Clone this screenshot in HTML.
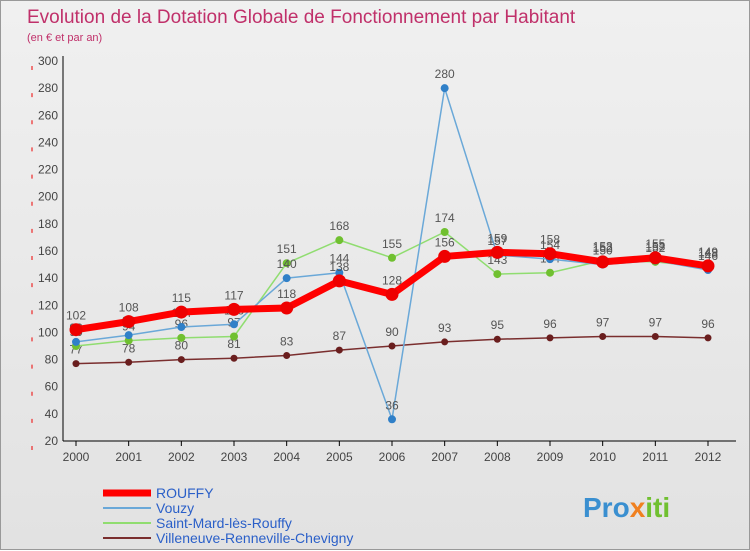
<!DOCTYPE html>
<html><head><meta charset="utf-8"><style>
body{margin:0;width:750px;height:550px;overflow:hidden;font-family:"Liberation Sans",sans-serif}
#wrap{position:absolute;left:0;top:0;width:748px;height:548px;border:1px solid #999;background:linear-gradient(#f0f0f0,#e2e2e2)}
</style></head><body>
<div id="wrap">
<svg id="svg" width="750" height="550" style="position:absolute;left:0;top:0">
<text x="26" y="22" font-size="19" fill="#c0306a">Evolution de la Dotation Globale de Fonctionnement par Habitant</text>
<text x="26" y="40" font-size="11" fill="#c0306a">(en € et par an)</text>
<g id="axes"></g><g id="series"></g><g id="legend"></g>
<text x="582" y="516" font-size="28" font-weight="bold" fill="#3a8fd0">Pro<tspan fill="#f08020">x</tspan><tspan fill="#70c030">iti</tspan></text>
</svg></div>
<script>
const years=[2000,2001,2002,2003,2004,2005,2006,2007,2008,2009,2010,2011,2012];
const yTicks=[20,40,60,80,100,120,140,160,180,200,220,240,260,280,300];
const rouffy=[102,108,115,117,118,138,128,156,159,158,152,155,149];
const vouzy=[93,98,104,106,140,144,36,280,157,154,150,153,146];
const stmard=[90,94,96,97,151,168,155,174,143,144,153,152,148];
const villeneuve=[77,78,80,81,83,87,90,93,95,96,97,97,96];
const names=["ROUFFY","Vouzy","Saint-Mard-lès-Rouffy","Villeneuve-Renneville-Chevigny"];
const NS="http://www.w3.org/2000/svg";
const xs=i=>75+i*(707-75)/(years.length-1);
const ys=v=>440-(v-20)*380/280;
function mk(t,a,p){const e=document.createElementNS(NS,t);for(const k in a)e.setAttribute(k,a[k]);p.appendChild(e);return e;}
const ax=document.getElementById('axes');
yTicks.forEach(v=>{
 const t=mk('text',{x:57,y:ys(v)+4,'font-size':12,fill:'#444','text-anchor':'end'},ax);t.textContent=v;
 
 
 mk('line',{x1:31,x2:31,y1:ys(v)+5,y2:ys(v)+9,stroke:'#e00'},ax);
});
mk('line',{x1:62,x2:62,y1:55,y2:440,stroke:'#000'},ax);
mk('line',{x1:62,x2:735,y1:440,y2:440,stroke:'#000'},ax);
years.forEach((y,i)=>{
 mk('line',{x1:xs(i),x2:xs(i),y1:440,y2:445,stroke:'#000'},ax);
 const t=mk('text',{x:xs(i),y:460,'font-size':12,fill:'#444','text-anchor':'middle'},ax);t.textContent=y;
 
 
});
const sg=document.getElementById('series');
function draw(data,color,w,r,dot,name){
 const g=mk('g',{},sg);
 
 
 mk('polyline',{points:data.map((v,i)=>xs(i)+','+ys(v)).join(' '),fill:'none',stroke:color,'stroke-width':w,'stroke-linejoin':'round'},g);
 data.forEach((v,i)=>{
  const c=mk('circle',{cx:xs(i),cy:ys(v),r:r,fill:dot},g);
  
  
  const t=mk('text',{x:xs(i),y:ys(v)-10,'font-size':12,fill:'#555','text-anchor':'middle'},g);t.textContent=v;
 });
}
draw(villeneuve,'#7a2e2e',1.5,3.5,'#6a1e1e','series-villeneuve');
draw(stmard,'#90dd70',1.5,4,'#70c030','series-saint-mard');
draw(vouzy,'#6aa8d8',1.5,4,'#3080c8','series-vouzy');
draw(rouffy,'#ff0000',7,6.5,'#ee0000','series-rouffy');
const lg=document.getElementById('legend');
const cols=['#ff0000','#6aa8d8','#90dd70','#7a2e2e'],ws=[7,2,2,2];
names.forEach((n,i)=>{
 const y=492+i*15;
 mk('line',{x1:102,x2:150,y1:y,y2:y,stroke:cols[i],'stroke-width':ws[i]},lg);
 const t=mk('text',{x:155,y:y+5,'font-size':14,fill:'#2a5fc8'},lg);t.textContent=n;
 
 
});
</script>
</body></html>
